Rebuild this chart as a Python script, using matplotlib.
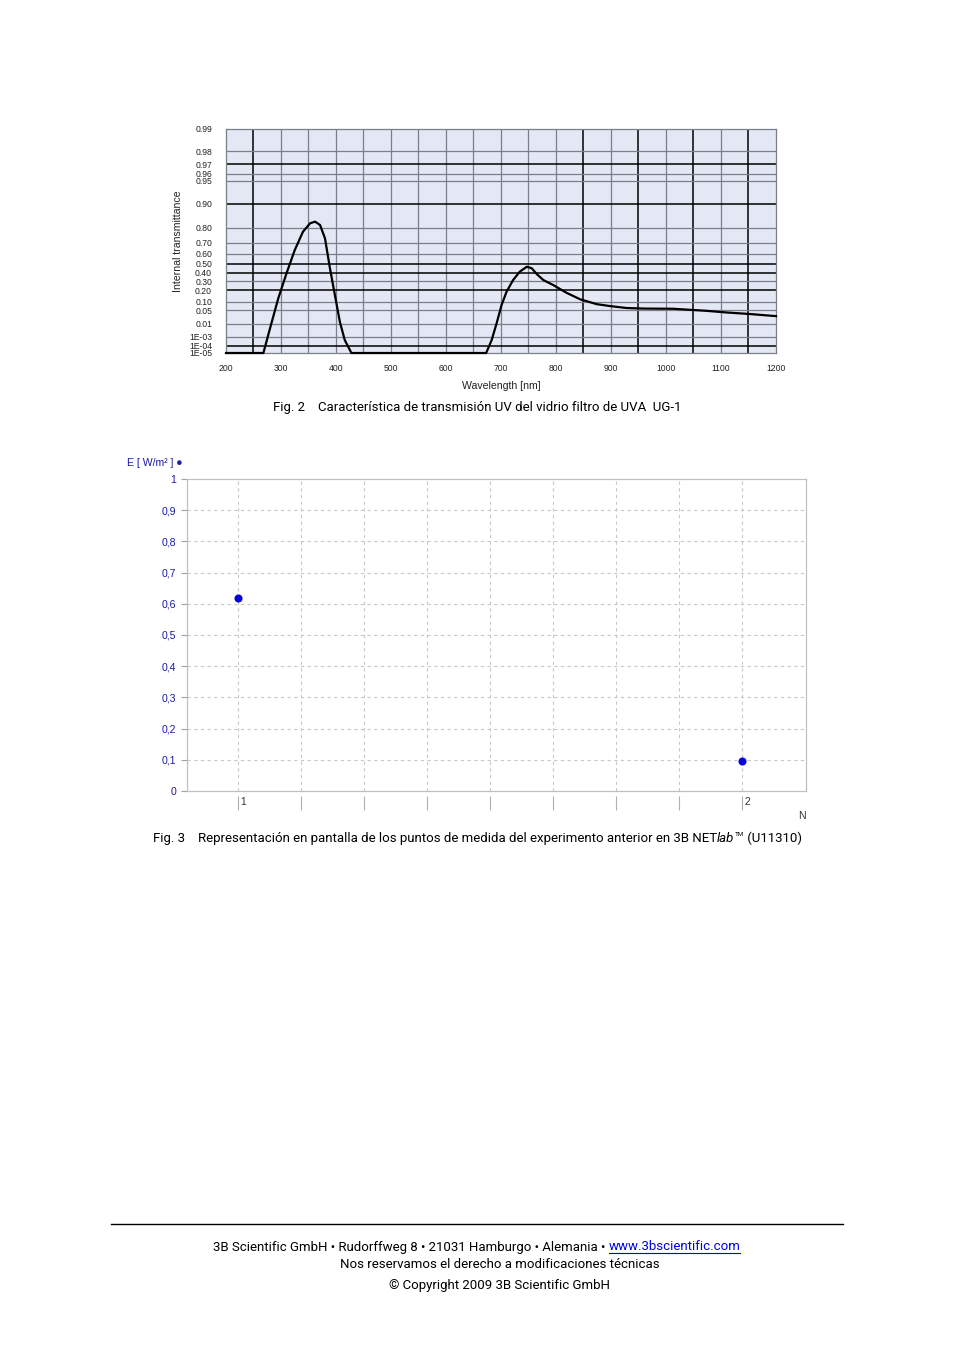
import matplotlib
matplotlib.use("Agg")
import matplotlib.pyplot as plt
import numpy as np
from matplotlib.lines import Line2D

# --- Fig. 2 data: internal transmittance of UG-1 filter glass
wavelength = [200, 268, 280, 295, 310, 325, 340, 353, 362, 371, 380, 389, 398, 407,
              416, 428,
              673, 683, 692, 701, 710, 722, 734, 747, 756, 765, 777, 795, 819, 844,
              874, 898, 928, 959, 1013, 1074, 1110, 1153, 1200]
transmittance = [1e-5, 1e-5, 0.0049, 0.126, 0.39, 0.636, 0.776, 0.823, 0.831, 0.814,
                 0.731, 0.448, 0.155, 0.0133, 4.6e-4, 1e-5,
                 1e-5, 4.6e-4, 0.0108, 0.078, 0.186, 0.313, 0.409, 0.466, 0.448, 0.382,
                 0.313, 0.257, 0.177, 0.119, 0.084, 0.072, 0.061, 0.058, 0.057, 0.047,
                 0.040, 0.034, 0.027]
t_ticks = [0.99, 0.98, 0.97, 0.96, 0.95, 0.90, 0.80, 0.70, 0.60, 0.50, 0.40, 0.30,
           0.20, 0.10, 0.05, 0.01, 1e-3, 1e-4, 1e-5]
t_labels = ["0.99", "0.98", "0.97", "0.96", "0.95", "0.90", "0.80", "0.70", "0.60",
            "0.50", "0.40", "0.30", "0.20", "0.10", "0.05", "0.01", "1E-03", "1E-04",
            "1E-05"]
t_dark = [0.97, 0.90, 0.50, 0.40, 0.20, 1e-4]
wl_ticks = list(range(200, 1201, 100))
wl_grid = list(range(250, 1200, 50))
wl_dark = [250, 850, 950, 1050, 1150]

# --- Fig. 3 data: measured irradiance
n_meas = [1, 2]
e_meas = [0.617, 0.097]
e_ticks = [0, 0.1, 0.2, 0.3, 0.4, 0.5, 0.6, 0.7, 0.8, 0.9, 1]
n_grid = [1 + k / 8 for k in range(9)]

W, H = 954, 1351
fig = plt.figure(figsize=(W / 100, H / 100), dpi=100)

narrow = ["Liberation Sans Narrow", "Roboto", "DejaVu Sans"]
arial = ["Liberation Sans", "DejaVu Sans"]


def fx(px):
    return px / W


def fy(py):
    return 1 - py / H


# ---------------- top chart ----------------
ax1 = fig.add_axes([fx(226), fy(353), (776 - 226) / W, (353 - 129) / H])
ax1.set_facecolor("#e4e8f5")


def fwd(t):
    t = np.clip(np.asarray(t, dtype=float), 1e-12, 1 - 1e-12)
    return -np.log10(-np.log(t))


def inv(v):
    return np.exp(-10.0 ** (-np.asarray(v, dtype=float)))


ax1.set_yscale("function", functions=(fwd, inv))
ax1.set_xlim(200, 1200)
ax1.set_ylim(1e-5, 0.99)

for w in wl_grid:
    dark = w in wl_dark
    ax1.axvline(w, color="#000000" if dark else "#7a7f8a", lw=1.1 if dark else 0.9, zorder=1)
for t in t_ticks[1:-1]:
    dark = t in t_dark
    ax1.axhline(t, color="#000000" if dark else "#7a7f8a", lw=1.1 if dark else 0.9, zorder=1)

ax1.plot(wavelength, transmittance, color="black", lw=1.6, zorder=3, clip_on=False,
         solid_joinstyle="round")

ax1.set_yticks(t_ticks)
ax1.set_yticklabels(t_labels)
ax1.yaxis.set_minor_locator(matplotlib.ticker.NullLocator())
ax1.set_xticks(wl_ticks)
ax1.tick_params(axis="both", length=0, labelsize=6.2, colors="#222222")
ax1.tick_params(axis="y", pad=10)
ax1.tick_params(axis="x", pad=8)
for lab in ax1.get_xticklabels() + ax1.get_yticklabels():
    lab.set_family(arial)
for s in ax1.spines.values():
    s.set_color("#7a7f8a")
    s.set_linewidth(0.9)
ax1.set_xlabel("Wavelength [nm]", fontsize=7.6, family=arial, color="#222222", labelpad=6)
ax1.set_ylabel("Internal transmittance", fontsize=7.6, family=arial, color="#222222",
               labelpad=4)

# ---------------- bottom chart ----------------
blue_txt = "#1a1aa6"
ax2 = fig.add_axes([fx(187), fy(791), (806 - 187) / W, (791 - 479) / H])
ax2.set_xlim(1 - 51 / 504, 1 + 568 / 504)
ax2.set_ylim(0, 1)
for n in n_grid:
    ax2.axvline(n, color="#c8c8c8", lw=0.8, ls=(0, (3, 3)), zorder=1)
for e in e_ticks[1:-1]:
    ax2.axhline(e, color="#c8c8c8", lw=0.8, ls=(0, (3, 3)), zorder=1)
ax2.plot(n_meas, e_meas, "o", color="#0000e0", ms=4.8, zorder=3)

for s in ax2.spines.values():
    s.set_color("#c0c0c0")
    s.set_linewidth(0.9)
ax2.set_yticks(e_ticks)
ax2.set_yticklabels([("%g" % e).replace(".", ",") for e in e_ticks])
ax2.tick_params(axis="y", length=4, color="#a0a0a0", labelsize=7.6, labelcolor=blue_txt,
                pad=4)
for lab in ax2.get_yticklabels():
    lab.set_family(arial)
ax2.set_xticks([])

sec = ax2.secondary_xaxis(-5 / 312)
sec.spines["bottom"].set_visible(False)
sec.set_xticks(n_grid)
sec.set_xticklabels([" 1", "", "", "", "", "", "", "", " 2"])
sec.tick_params(axis="x", length=10, color="#b0b0b0", labelsize=7.6, labelcolor="#333333",
                pad=-9)
for lab in sec.get_xticklabels():
    lab.set_family(arial)
    lab.set_horizontalalignment("left")

page = fig.add_axes([0, 0, 1, 1])
page.set_axis_off()
page.set_xlim(0, W)
page.set_ylim(H, 0)

page.text(802, 816, "N", fontsize=7.6, family=arial, color="#333333", ha="center", va="center")
page.text(127, 463, "E [ W/m² ] ●", fontsize=7.6, family=arial, color=blue_txt,
          ha="left", va="center")

# ---------------- captions ----------------
cap_fs = 9.5
page.text(477, 407, "Fig. 2    Característica de transmisión UV del vidrio filtro de UVA  UG-1",
          fontsize=cap_fs, family=narrow, ha="center", va="center")

c1 = page.text(153, 842, "Fig. 3    Representación en pantalla de los puntos de medida del "
               "experimento anterior en 3B NET", fontsize=cap_fs, family=narrow,
               ha="left", va="baseline")
c2 = page.annotate("lab", xy=(1, 0), xycoords=c1, fontsize=cap_fs, family=narrow,
                   style="italic", ha="left", va="bottom")
c3 = page.annotate("TM", xy=(1, 0.78), xycoords=c2, fontsize=4.5, family=narrow,
                   ha="left", va="center")
page.annotate(" (U11310)", xy=(1, 0), xycoords=(c3, c2),
              fontsize=cap_fs, family=narrow, ha="left", va="bottom")

# ---------------- footer ----------------
page.add_line(Line2D([111, 843], [1224, 1224], color="black", lw=1.0))
f1 = page.text(213, 1247, "3B Scientific GmbH • Rudorffweg 8 • 21031 Hamburgo • Alemania • ",
               fontsize=cap_fs, family=narrow, ha="left", va="center")
url = page.annotate("www.3bscientific.com", xy=(1, 0), xycoords=f1, fontsize=cap_fs,
                    family=narrow, color="#0000ee", ha="left", va="bottom")
page.text(500, 1264, "Nos reservamos el derecho a modificaciones técnicas",
          fontsize=cap_fs, family=narrow, ha="center", va="center")
page.text(500, 1285, "© Copyright 2009 3B Scientific GmbH",
          fontsize=cap_fs, family=narrow, ha="center", va="center")

fig.canvas.draw()
bb = url.get_window_extent()
inv_t = page.transData.inverted()
(x0, y0), (x1_, _) = inv_t.transform([[bb.x0, bb.y0], [bb.x1, bb.y0]])
page.add_line(Line2D([x0, x1_], [y0 - 1, y0 - 1], color="#0000ee", lw=0.8))

fig.savefig("out.png", dpi=100)
